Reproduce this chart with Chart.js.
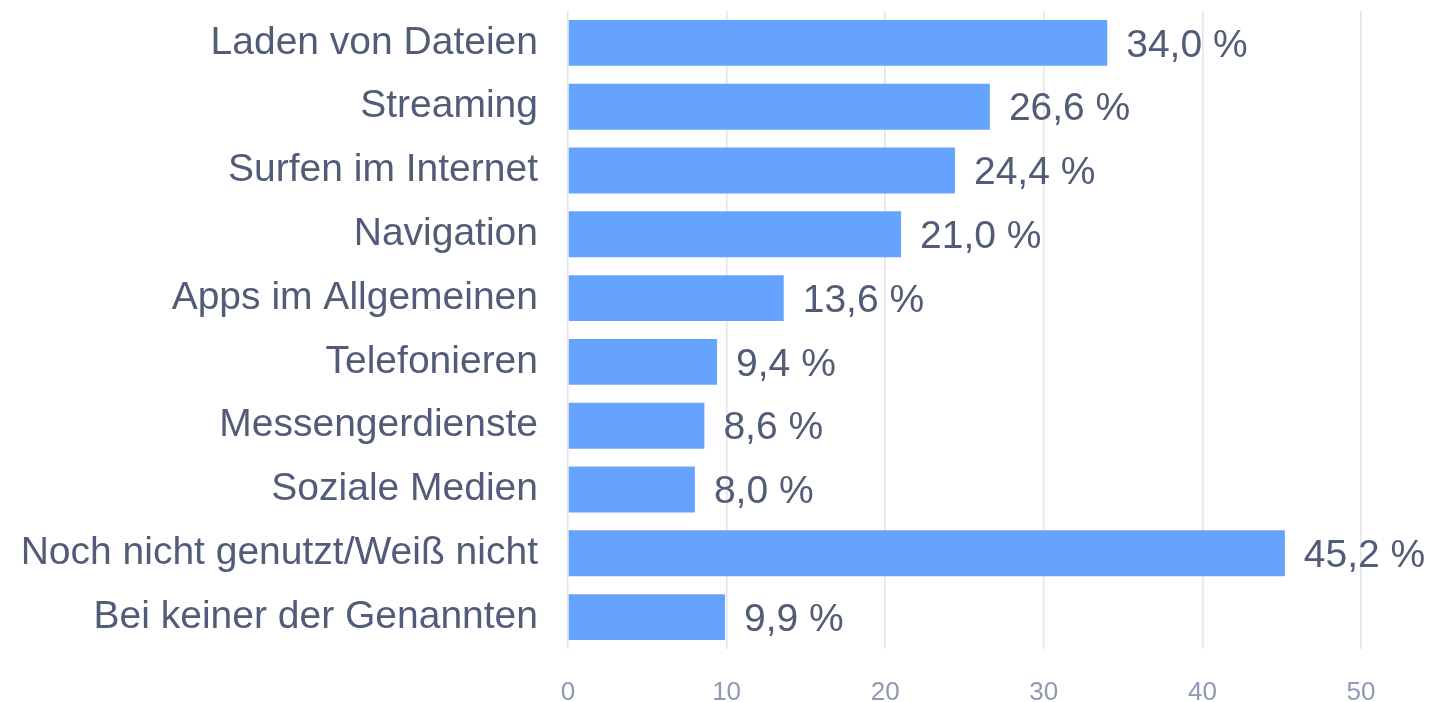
<!DOCTYPE html>
<html>
<head>
<meta charset="utf-8">
<script src="https://cdn.jsdelivr.net/npm/chart.js@4/dist/chart.umd.min.js"></script>
<style>
  html, body { margin: 0; padding: 0; background: #fff; }
  #wrap { width: 1433px; height: 702px; }
</style>
</head>
<body>
<div id="wrap"><canvas id="grafico"></canvas></div>
<script>
const categorias = [
    'Laden von Dateien',
    'Streaming',
    'Surfen im Internet',
    'Navigation',
    'Apps im Allgemeinen',
    'Telefonieren',
    'Messengerdienste',
    'Soziale Medien',
    'Noch nicht genutzt/Weiß nicht',
    'Bei keiner der Genannten'
];
const valores = [34.0, 26.6, 24.4, 21.0, 13.6, 9.4, 8.6, 8.0, 45.2, 9.9];
const ticksX = [0, 10, 20, 30, 40, 50];

const COR_BARRA = '#66a3ff';
const COR_TEXTO = '#525c78';
const COR_TICK = '#8f99b2';
const FONTE = '"Liberation Sans", Arial, sans-serif';

const rotulosValores = {
    id: 'rotulosValores',
    afterDatasetsDraw(chart) {
        const ctx = chart.ctx;
        const meta = chart.getDatasetMeta(0);
        ctx.save();
        ctx.font = '39px ' + FONTE;
        ctx.fillStyle = COR_TEXTO;
        ctx.textAlign = 'left';
        ctx.textBaseline = 'middle';
        meta.data.forEach((bar, i) => {
            const txt = valores[i].toFixed(1).replace('.', ',') + ' %';
            ctx.fillText(txt, bar.x + 19, bar.y + 3);
        });
        ctx.restore();
    }
};

new Chart(document.getElementById('grafico').getContext('2d'), {
    type: 'bar',
    data: {
        labels: categorias,
        datasets: [{
            data: valores,
            backgroundColor: COR_BARRA,
            barPercentage: 0.72,
            categoryPercentage: 1
        }]
    },
    options: {
        indexAxis: 'y',
        responsive: true,
        maintainAspectRatio: false,
        animation: false,
        layout: { padding: { top: 11, right: 72, left: 0, bottom: 0 } },
        plugins: {
            legend: { display: false },
            tooltip: { enabled: false }
        },
        scales: {
            x: {
                min: 0,
                max: 50,
                afterBuildTicks: s => { s.ticks = ticksX.map(v => ({ value: v })); },
                afterFit: s => { s.height = 53; s.paddingLeft = 0; s.paddingRight = 0; },
                border: { display: false },
                grid: { color: '#e3e3e8', lineWidth: 1.5, drawTicks: false },
                ticks: {
                    color: COR_TICK,
                    padding: 28,
                    font: { family: FONTE, size: 26 }
                }
            },
            y: {
                afterFit: s => { s.width = 568; s.paddingTop = 0; s.paddingBottom = 0; },
                border: { display: false },
                grid: { display: false, drawTicks: false },
                ticks: {
                    color: COR_TEXTO,
                    padding: 30,
                    font: { family: FONTE, size: 39 }
                }
            }
        }
    },
    plugins: [rotulosValores]
});
</script>
</body>
</html>
